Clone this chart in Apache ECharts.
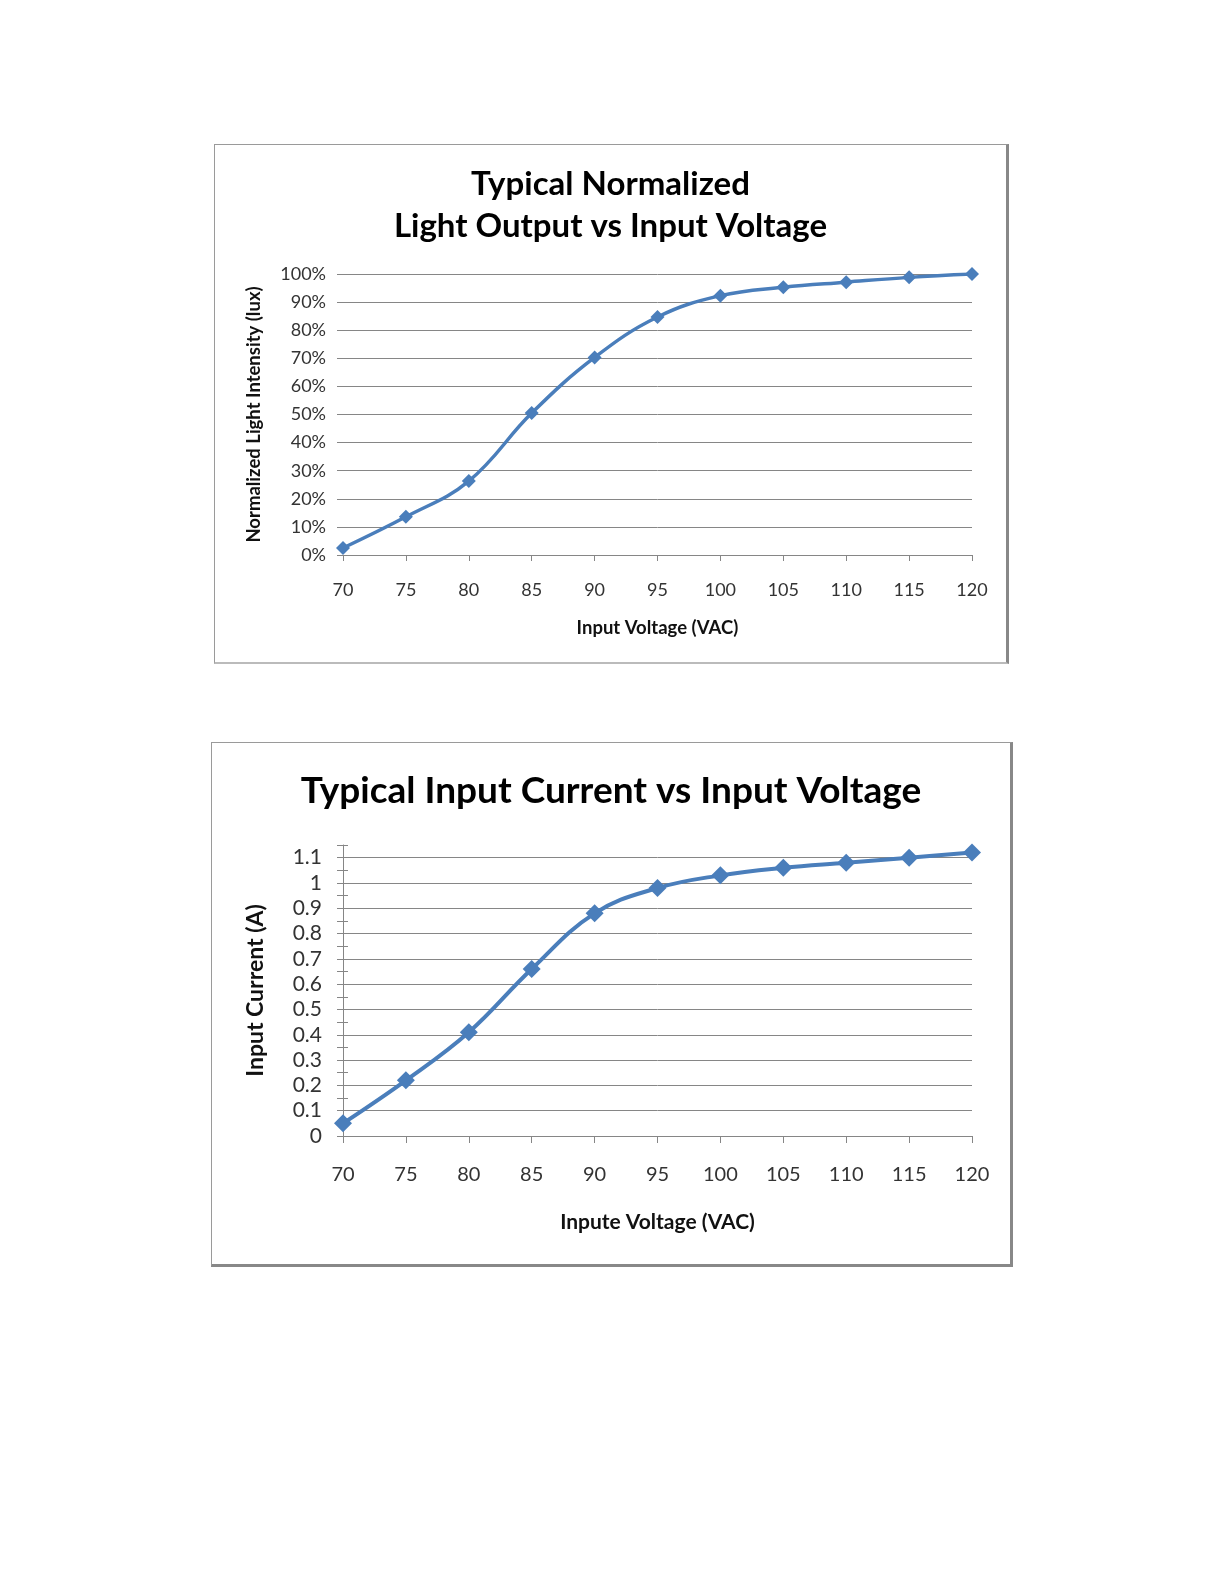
<!DOCTYPE html>
<html>
<head>
<meta charset="utf-8">
<script src="https://cdn.jsdelivr.net/npm/echarts@6/dist/echarts.min.js"></script>
<style>
body{margin:0;background:#fff;width:1225px;height:1585px;position:relative;}
.box{position:absolute;background:#fff;border:1px solid #9a9a9a;box-sizing:border-box;}
#chart1{left:214px;top:144px;width:795px;height:520px;border-right:3px solid #888;border-bottom:2px solid #bbb;}
#chart2{left:211px;top:742px;width:802px;height:525px;border-right:3px solid #888;border-bottom:3px solid #888;}
</style>
</head>
<body>
<div id="chart1" class="box"></div>
<div id="chart2" class="box"></div>
<script>
var voltage = [70, 75, 80, 85, 90, 95, 100, 105, 110, 115, 120];
var lightPct = [2.5, 13.6, 26.3, 50.5, 70.3, 84.7, 92.3, 95.3, 97.1, 98.8, 100];
var currentA = [0.05, 0.22, 0.41, 0.66, 0.88, 0.98, 1.03, 1.06, 1.08, 1.10, 1.12];

var blue = '#4a7ebb';
var grey = '#868686';
var font = 'Lato';

function pairs (xs, ys) {
	return xs.map(function (x, i) { return [x, ys[i]]; });
}

function addLightChart (divid) {
	var myChart = echarts.init(document.getElementById(divid));
	var option = {
		animation: false,
		title: {
			text: 'Typical Normalized\nLight Output vs Input Voltage',
			left: 'center',
			top: 13,
			textStyle: { fontFamily: font, fontWeight: 'bold', fontSize: 33, lineHeight: 42, color: '#000' }
		},
		grid: { left: 128, top: 129, width: 629, height: 281 },
		xAxis: {
			type: 'value', min: 70, max: 120, interval: 5,
			name: 'Input Voltage (VAC)', nameLocation: 'middle', nameGap: 64,
			nameTextStyle: { fontFamily: font, fontWeight: 'bold', fontSize: 18.5, color: '#111' },
			axisLine: { lineStyle: { color: grey, width: 1 } },
			axisTick: { show: true, length: 6, lineStyle: { color: grey } },
			axisLabel: { margin: 26, fontFamily: font, fontSize: 18, color: '#333' },
			splitLine: { show: false }
		},
		yAxis: {
			type: 'value', min: 0, max: 100, interval: 10,
			name: 'Normalized Light Intensity (lux)', nameLocation: 'middle', nameGap: 79,
			nameTextStyle: { fontFamily: font, fontWeight: 'bold', fontSize: 18.5, color: '#111' },
			axisLine: { show: false },
			axisTick: { show: true, length: 6, lineStyle: { color: grey } },
			axisLabel: { margin: 17, fontFamily: font, fontSize: 18, color: '#333', formatter: '{value}%' },
			splitLine: { lineStyle: { color: grey, width: 1 } }
		},
		series: [{
			type: 'line',
			data: pairs(voltage, lightPct),
			smooth: 0.4,
			symbol: 'diamond',
			symbolSize: 14,
			lineStyle: { color: blue, width: 3.5 },
			itemStyle: { color: blue }
		}]
	};
	myChart.setOption(option);
}

function addCurrentChart (divid) {
	var myChart = echarts.init(document.getElementById(divid));
	var tickAxis = function (inside, len) {
		return {
			type: 'value', min: 0, max: 1.15, interval: 0.05, position: 'left',
			axisLine: { show: false },
			axisTick: { show: true, inside: inside, length: len, lineStyle: { color: grey } },
			axisLabel: { show: false },
			splitLine: { show: false }
		};
	};
	var option = {
		animation: false,
		title: {
			text: 'Typical Input Current vs Input Voltage',
			left: 'center',
			top: 23,
			textStyle: { fontFamily: font, fontWeight: 'bold', fontSize: 37, lineHeight: 40, color: '#000' }
		},
		grid: { left: 131, top: 102, width: 629, height: 291 },
		xAxis: {
			type: 'value', min: 70, max: 120, interval: 5,
			name: 'Inpute Voltage (VAC)', nameLocation: 'middle', nameGap: 76,
			nameTextStyle: { fontFamily: font, fontWeight: 'bold', fontSize: 21, color: '#111' },
			axisLine: { lineStyle: { color: grey, width: 1 } },
			axisTick: { show: true, length: 7, lineStyle: { color: grey } },
			axisLabel: { margin: 29, fontFamily: font, fontSize: 20, color: '#333' },
			splitLine: { show: false }
		},
		yAxis: [{
			type: 'value', min: 0, max: 1.15, interval: 0.1, position: 'left',
			name: 'Input Current (A)', nameLocation: 'middle', nameGap: 76,
			nameTextStyle: { fontFamily: font, fontWeight: 'bold', fontSize: 23, color: '#111' },
			axisLine: { show: true, lineStyle: { color: grey, width: 1 } },
			axisTick: { show: false },
			axisLabel: { margin: 21, fontFamily: font, fontSize: 21, color: '#333', showMaxLabel: false },
			splitLine: { showMaxLine: false, lineStyle: { color: grey, width: 1 } }
		}, tickAxis(false, 6), tickAxis(true, 5)],
		series: [{
			type: 'line',
			yAxisIndex: 0,
			data: pairs(voltage, currentA),
			smooth: 0.4,
			symbol: 'diamond',
			symbolSize: 18,
			lineStyle: { color: blue, width: 4 },
			itemStyle: { color: blue }
		}]
	};
	myChart.setOption(option);
}

addLightChart('chart1');
addCurrentChart('chart2');
</script>
</body>
</html>
